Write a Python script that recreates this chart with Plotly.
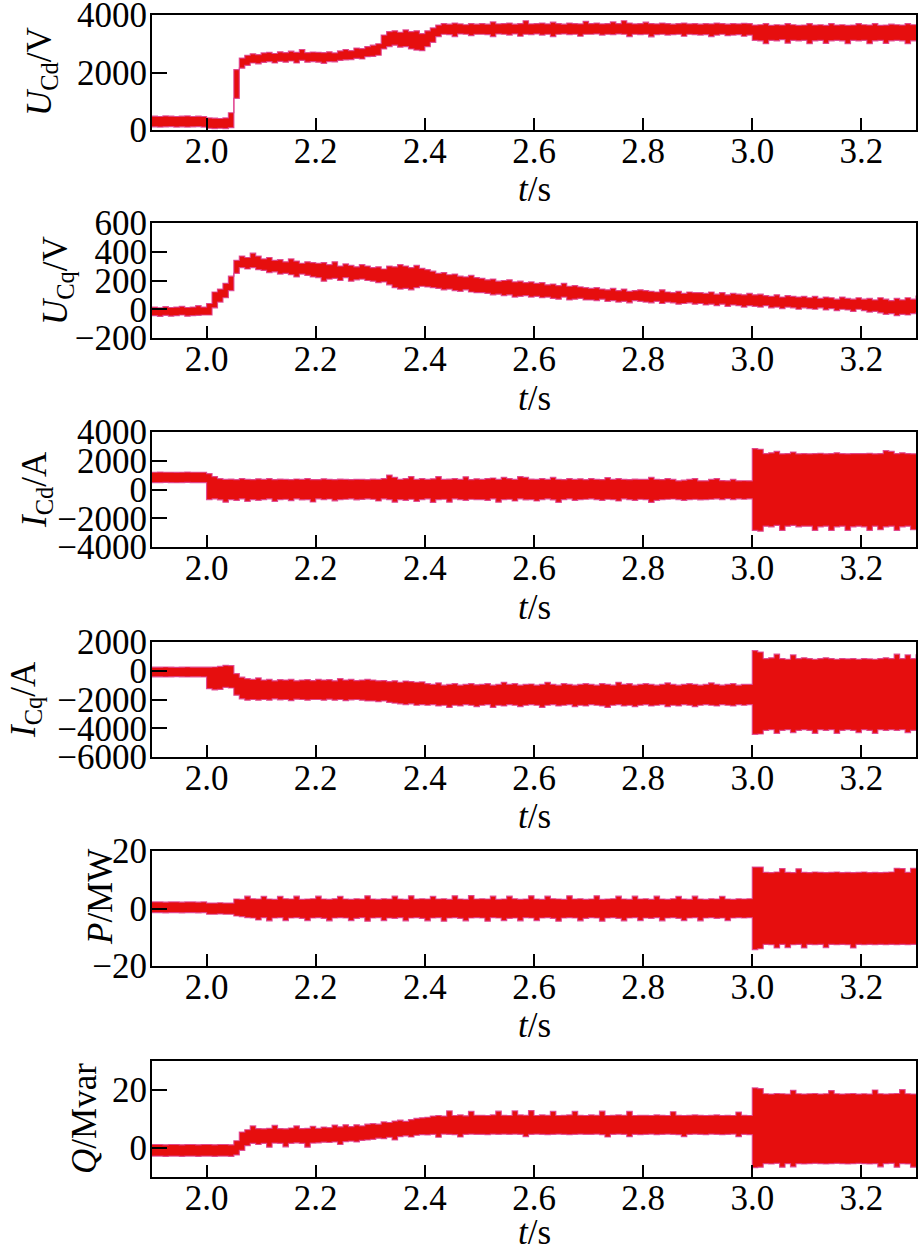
import plotly.graph_objects as go

# ---------------- data ----------------
T0, DT, N = 1.90, 0.01, 141
t = [round(T0 + DT * i, 2) for i in range(N)]

ucd_hi = [480, 470, 490, 480, 470, 480, 490, 470, 480, 470,
          420, 410, 400, 420, 600, 2100, 2500, 2600, 2650, 2620,
          2680, 2700, 2660, 2720, 2690, 2740, 2700, 2800, 2690, 2710,
          2700, 2690, 2720, 2680, 2750, 2800, 2760, 2850, 2830, 2900,
          2950, 3000, 3300, 3420, 3450, 3400, 3480, 3420, 3450, 3350,
          3450, 3550, 3650, 3700, 3680, 3720, 3690, 3660, 3700, 3680,
          3700, 3680, 3760, 3690, 3700, 3720, 3680, 3700, 3800, 3690,
          3700, 3720, 3690, 3750, 3700, 3680, 3720, 3700, 3690, 3780,
          3700, 3720, 3690, 3700, 3760, 3700, 3800, 3720, 3690, 3700,
          3750, 3700, 3690, 3720, 3700, 3680, 3700, 3720, 3690, 3700,
          3680, 3700, 3690, 3720, 3700, 3680, 3700, 3690, 3710, 3700,
          3650, 3660, 3700, 3640, 3660, 3650, 3700, 3660, 3640, 3650,
          3700, 3650, 3660, 3640, 3700, 3650, 3660, 3640, 3650, 3700,
          3660, 3650, 3700, 3640, 3650, 3680, 3660, 3650, 3700, 3660, 3650]
ucd_lo = [110, 100, 110, 120, 100, 110, 100, 110, 120, 100,
          60, 50, 60, 50, 80, 1100, 2150, 2250, 2330, 2300,
          2350, 2380, 2330, 2390, 2360, 2400, 2330, 2420, 2360, 2380,
          2360, 2320, 2380, 2370, 2420, 2440, 2450, 2490, 2470, 2550,
          2560, 2600, 2820, 2900, 2950, 2880, 2900, 2820, 2780, 2760,
          2900, 3050, 3250, 3330, 3320, 3250, 3340, 3330, 3280, 3330,
          3330, 3320, 3250, 3340, 3330, 3300, 3340, 3260, 3330, 3320,
          3340, 3300, 3330, 3250, 3330, 3340, 3320, 3330, 3260, 3330,
          3330, 3340, 3300, 3330, 3320, 3340, 3330, 3250, 3330, 3320,
          3330, 3240, 3320, 3330, 3300, 3320, 3330, 3260, 3330, 3320,
          3300, 3320, 3250, 3300, 3330, 3280, 3300, 3320, 3260, 3300,
          3120, 3100, 3000, 3120, 3100, 3140, 3020, 3120, 3100, 3120,
          3000, 3100, 3120, 3010, 3100, 3120, 3100, 3000, 3120, 3100,
          3120, 3000, 3100, 3120, 3010, 3100, 3120, 3100, 3000, 3100, 3120]

ucq_hi = [15, 10, 18, 12, 15, 20, 12, 15, 25, 15,
          40, 120, 140, 180, 230, 340, 370, 360, 390, 370,
          350, 360, 340, 345, 330, 350, 335, 320, 330, 325,
          320, 325, 310, 330, 300, 315, 305, 295, 310, 300,
          290, 295, 280, 300, 295, 310, 300, 290, 305, 285,
          275, 265, 250, 255, 240, 245, 230, 225, 235, 220,
          215, 205, 210, 195, 200, 205, 190, 195, 185, 190,
          180, 185, 170, 175, 165, 180, 160, 165, 155, 150,
          145, 150, 140, 135, 145, 130, 140, 125, 130, 135,
          130, 125, 120, 135, 120, 115, 125, 110, 120, 115,
          115, 110, 120, 105, 115, 100, 110, 105, 100, 110,
          100, 105, 95, 90, 100, 85, 95, 90, 85, 90,
          80, 90, 75, 85, 80, 70, 85, 75, 70, 80,
          70, 75, 65, 80, 70, 60, 75, 65, 80, 70, 95]
ucq_lo = [-45, -50, -42, -48, -45, -40, -48, -45, -42, -40,
          -40, 10, 50, 80, 130, 250, 290, 280, 290, 275,
          270, 255, 260, 245, 250, 240, 225, 245, 235, 225,
          220, 195, 210, 215, 200, 220, 195, 205, 210, 200,
          195, 185, 190, 170, 150, 140, 145, 135, 150, 160,
          155, 150, 145, 135, 140, 130, 125, 135, 120, 115,
          115, 110, 100, 105, 95, 100, 85, 90, 95, 85,
          90, 80, 85, 75, 70, 85, 65, 70, 75, 65,
          65, 60, 70, 55, 60, 50, 55, 45, 60, 55,
          50, 45, 55, 40, 50, 45, 35, 40, 45, 35,
          40, 30, 35, 25, 35, 20, 30, 25, 15, 25,
          20, 15, 25, 10, 15, 5, 15, 10, 0, 10,
          5, 0, 10, -5, 5, -10, 0, -5, -15, 0,
          -10, -20, -15, -25, -35, -30, -45, -35, -40, -30, -20]

icd_hi = [1200, 1210, 1200, 1200, 1190, 1200, 1210, 1200, 1200, 1200,
          1100, 900, 750, 700, 720, 680, 760, 700, 690, 740,
          700, 760, 690, 720, 700, 680, 730, 700, 760, 690,
          690, 740, 700, 680, 720, 700, 690, 710, 700, 680,
          720, 700, 760, 1000, 850, 700, 760, 900, 700, 760,
          700, 740, 900, 700, 720, 760, 700, 880, 690, 740,
          700, 760, 800, 700, 850, 760, 700, 900, 850, 720,
          700, 760, 700, 840, 700, 690, 760, 700, 740, 680,
          760, 700, 690, 820, 700, 760, 700, 690, 720, 700,
          700, 840, 700, 690, 760, 700, 600, 650, 700, 760,
          600, 600, 700, 760, 620, 600, 700, 600, 610, 600,
          2850, 2800, 2500, 2550, 2650, 2480, 2500, 2600, 2480, 2500,
          2480, 2500, 2520, 2480, 2500, 2550, 2490, 2480, 2500, 2500,
          2500, 2520, 2480, 2500, 2700, 2650, 2500, 2550, 2500, 2480, 2500]
icd_lo = [480, 480, 490, 480, 470, 480, 490, 480, 480, 480,
          -700, -650, -720, -880, -700, -760, -650, -820, -700, -750,
          -700, -650, -820, -700, -680, -780, -650, -720, -700, -870,
          -650, -700, -660, -790, -700, -680, -650, -720, -690, -650,
          -680, -800, -650, -700, -880, -700, -750, -680, -820, -700,
          -650, -900, -700, -680, -880, -650, -700, -750, -680, -700,
          -700, -760, -650, -880, -700, -680, -800, -650, -720, -700,
          -800, -700, -650, -720, -890, -700, -650, -760, -700, -680,
          -650, -700, -760, -680, -700, -800, -650, -700, -760, -680,
          -700, -900, -750, -700, -680, -660, -700, -760, -700, -680,
          -720, -700, -680, -650, -700, -640, -700, -650, -680, -650,
          -2850, -2900, -2550, -2600, -2500, -2850, -2550, -2500, -2600, -2550,
          -2550, -2850, -2600, -2550, -2850, -2600, -2550, -2850, -2600, -2550,
          -2600, -2850, -2550, -2800, -2600, -2550, -2850, -2600, -2550, -2800, -2800]

icq_hi = [250, 250, 260, 250, 240, 250, 260, 250, 250, 250,
          250, 260, 300, 380, 350, -200, -450, -550, -600, -500,
          -650, -600, -700, -620, -650, -600, -700, -650, -620, -680,
          -600, -650, -620, -700, -550, -650, -600, -680, -650, -600,
          -650, -700, -680, -750, -700, -800, -720, -750, -800, -780,
          -900, -950, -850, -1000, -950, -900, -1000, -950, -900, -980,
          -950, -900, -1000, -950, -800, -950, -900, -1000, -950, -920,
          -1000, -950, -800, -950, -1000, -900, -950, -1000, -950, -900,
          -950, -1000, -900, -950, -1000, -800, -950, -900, -1000, -950,
          -900, -950, -1000, -950, -850, -950, -1000, -950, -900, -950,
          -1000, -950, -850, -950, -1000, -950, -900, -1000, -950, -950,
          1400, 1300, 850, 900, 1150, 850, 800, 1100, 850, 900,
          850, 800, 850, 900, 850, 800, 850, 820, 850, 800,
          850, 820, 800, 850, 900, 850, 1150, 850, 1100, 850, 1150]
icq_lo = [-420, -420, -430, -420, -410, -420, -430, -420, -420, -430,
          -1250, -1330, -1300, -1150, -1200, -1700, -1950, -2050, -2000, -2050,
          -2000, -2050, -1950, -2020, -2000, -2080, -1980, -2000, -2050, -2000,
          -2000, -2050, -1980, -2050, -2000, -2080, -2020, -2000, -2050, -2100,
          -2100, -2150, -2100, -2200, -2250, -2300, -2350, -2300, -2400, -2350,
          -2400, -2350, -2450, -2400, -2550, -2400, -2450, -2350, -2400, -2500,
          -2400, -2350, -2550, -2400, -2450, -2350, -2400, -2500, -2400, -2350,
          -2400, -2550, -2400, -2350, -2450, -2400, -2350, -2500, -2400, -2450,
          -2350, -2400, -2450, -2550, -2400, -2350, -2450, -2400, -2500, -2400,
          -2350, -2450, -2400, -2350, -2500, -2400, -2450, -2350, -2400, -2500,
          -2400, -2350, -2400, -2450, -2350, -2400, -2450, -2350, -2400, -2350,
          -4420, -4400, -4150, -4100, -4350, -4150, -4100, -4300, -4150, -4100,
          -4150, -4350, -4100, -4150, -4100, -4350, -4150, -4100, -4150, -4300,
          -4100, -4150, -4350, -4100, -4150, -4100, -4150, -4100, -4300, -4150, -4100]

p_hi = [2.3, 2.3, 2.2, 2.3, 2.3, 2.2, 2.3, 2.3, 2.2, 2.3,
        1.9, 1.9, 2.0, 1.9, 1.9, 3.3, 3.2, 4.3, 3.4, 3.3,
        4.2, 3.3, 3.2, 4.2, 3.4, 3.3, 4.3, 3.2, 3.3, 3.4,
        4.3, 3.3, 3.2, 3.4, 4.2, 3.3, 3.2, 3.4, 3.3, 4.4,
        3.3, 3.2, 3.4, 3.3, 4.3, 3.3, 3.2, 4.4, 3.3, 3.4,
        3.3, 4.2, 3.3, 3.4, 3.2, 4.4, 3.3, 3.2, 4.5, 3.3,
        3.4, 3.3, 4.3, 3.2, 3.3, 4.3, 3.4, 3.2, 3.3, 4.4,
        3.3, 3.2, 4.3, 3.4, 3.3, 3.2, 4.4, 3.3, 3.4, 3.2,
        3.3, 4.4, 3.2, 3.3, 3.4, 4.3, 3.3, 3.2, 4.3, 3.3,
        3.4, 3.2, 4.3, 3.3, 3.2, 3.4, 4.2, 3.3, 3.2, 4.3,
        3.3, 3.2, 3.4, 3.3, 4.2, 3.3, 3.2, 3.4, 3.3, 3.4,
        14.4, 14.4, 12.6, 12.5, 12.7, 13.9, 12.6, 12.5, 13.8, 12.6,
        12.5, 12.7, 12.6, 12.5, 12.6, 12.7, 12.5, 12.6, 12.5, 12.6,
        12.7, 12.5, 12.6, 12.5, 12.6, 12.7, 14.0, 13.9, 12.6, 14.0, 14.0]
p_lo = [-1.4, -1.4, -1.5, -1.4, -1.4, -1.5, -1.4, -1.4, -1.5, -1.4,
        -2.0, -2.0, -1.9, -2.0, -2.0, -2.6, -2.8, -3.2, -3.3, -4.0,
        -3.2, -4.3, -3.3, -3.2, -4.2, -3.3, -3.2, -3.4, -4.2, -3.3,
        -3.2, -3.4, -4.3, -3.3, -3.2, -3.3, -4.2, -3.4, -3.2, -4.4,
        -3.3, -3.2, -4.2, -3.3, -3.4, -3.2, -4.3, -3.3, -3.2, -3.4,
        -4.3, -3.3, -3.2, -4.4, -3.3, -3.2, -3.4, -4.3, -3.3, -3.2,
        -3.3, -4.4, -3.2, -3.3, -4.2, -3.4, -3.3, -4.3, -3.2, -3.3,
        -4.2, -3.3, -3.2, -3.4, -4.4, -3.3, -3.2, -3.3, -4.3, -3.4,
        -3.2, -3.3, -4.4, -3.3, -3.2, -3.4, -4.3, -3.3, -3.2, -4.2,
        -3.3, -3.4, -3.2, -4.3, -3.3, -3.2, -3.4, -4.2, -3.3, -3.2,
        -4.3, -3.3, -3.2, -3.4, -3.3, -4.2, -3.3, -3.2, -3.3, -3.2,
        -14.3, -14.0, -12.5, -12.6, -13.7, -12.5, -13.6, -12.6, -12.5, -13.7,
        -12.5, -12.6, -12.5, -13.6, -12.5, -12.6, -12.5, -12.6, -13.7, -12.5,
        -12.6, -12.5, -12.6, -12.5, -12.6, -12.5, -12.6, -12.5, -12.6, -12.5, -12.6]

q_hi = [1.2, 1.2, 1.1, 1.2, 1.2, 1.1, 1.2, 1.2, 1.1, 1.2,
        1.2, 1.1, 1.2, 1.2, 1.1, 2.5, 5.5, 6.3, 7.6, 6.7,
        6.6, 6.8, 7.8, 6.7, 6.6, 6.9, 7.6, 6.7, 6.8, 7.5,
        6.8, 7.2, 7.0, 7.9, 7.3, 8.0, 7.4, 8.0, 7.6, 8.2,
        8.4, 8.2, 9.0, 8.8, 9.3, 9.6, 9.2, 9.8, 10.2, 10.4,
        10.6, 11.0, 11.2, 11.0, 12.8, 11.2, 11.4, 11.1, 12.6, 11.3,
        11.3, 11.2, 11.4, 12.7, 11.3, 11.2, 12.8, 11.4, 11.3, 12.9,
        11.2, 11.4, 11.3, 12.6, 11.2, 11.3, 11.4, 12.6, 11.3, 11.2,
        11.4, 11.3, 12.7, 11.2, 11.3, 11.4, 11.3, 12.6, 11.2, 11.3,
        11.3, 11.2, 11.4, 11.3, 11.2, 12.5, 11.3, 11.2, 11.3, 11.4,
        11.3, 11.2, 11.3, 11.4, 11.2, 11.3, 11.2, 12.4, 11.3, 11.2,
        20.7, 20.5, 18.7, 18.6, 18.8, 18.7, 18.6, 19.9, 18.7, 18.6,
        18.7, 18.8, 18.6, 18.7, 19.8, 18.7, 18.6, 18.7, 18.8, 18.6,
        18.7, 18.6, 20.0, 18.7, 18.6, 18.7, 18.8, 20.1, 18.7, 18.6, 18.7]
q_lo = [-2.8, -2.8, -2.9, -2.8, -2.8, -2.9, -2.8, -2.8, -2.9, -2.8,
        -2.8, -2.9, -2.8, -2.8, -2.9, -2.4, -0.8, 0.8, 1.6, 1.2,
        1.6, 0.3, 1.7, 1.6, 0.4, 1.6, 1.8, 1.6, 0.3, 1.7,
        1.8, 2.0, 1.9, 2.1, 1.2, 2.2, 2.4, 2.1, 2.6, 2.8,
        3.0, 3.4, 3.2, 3.7, 2.8, 3.9, 4.2, 3.8, 4.4, 4.6,
        4.5, 4.7, 3.7, 4.8, 4.7, 4.6, 3.8, 4.7, 4.8, 4.7,
        4.7, 4.6, 4.8, 4.7, 4.8, 4.7, 4.8, 4.7, 3.9, 4.7,
        4.8, 4.7, 4.6, 4.7, 4.8, 4.7, 4.6, 4.7, 4.8, 4.7,
        4.7, 4.8, 4.6, 3.8, 4.7, 4.8, 4.7, 3.9, 4.7, 4.6,
        4.7, 4.8, 4.6, 4.7, 4.8, 4.7, 4.6, 3.9, 4.7, 4.8,
        4.7, 4.6, 4.8, 4.7, 4.6, 4.7, 4.8, 3.9, 4.7, 4.6,
        -6.8, -6.6, -5.4, -5.5, -5.3, -6.6, -5.4, -6.5, -5.4, -5.5,
        -5.4, -5.3, -5.4, -5.5, -5.4, -5.3, -5.4, -5.5, -5.4, -5.3,
        -5.4, -5.5, -5.4, -6.5, -5.4, -5.3, -6.6, -5.4, -5.5, -6.6, -6.5]

x_ticks = [2.0, 2.2, 2.4, 2.6, 2.8, 3.0, 3.2]
y_titles = ["<i>U</i><sub>Cd</sub>/V", "<i>U</i><sub>Cq</sub>/V", "<i>I</i><sub>Cd</sub>/A",
            "<i>I</i><sub>Cq</sub>/A", "<i>P</i>/MW", "<i>Q</i>/Mvar"]
y_ranges = [[0, 4000], [-200, 600], [-4000, 4000], [-6000, 2000], [-20, 20], [-10, 30]]
y_ticks = [[0, 2000, 4000], [-200, 0, 200, 400, 600], [-4000, -2000, 0, 2000, 4000],
           [-6000, -4000, -2000, 0, 2000], [-20, 0, 20], [0, 20]]
x_title = "<i>t</i>/s"

# ---------------- layout geometry (pixels) ----------------
W, H = 918, 1247
X0, X1 = 152, 916
panels = [(15, 130), (223, 338), (432, 547), (642, 757), (851, 966), (1061, 1177)]
ytitle_x = [41, 57, 36, 25, 100, 84]
ytitle_y = [72, 281, 490, 700, 897, 1119]
xtitle_y = [189, 398, 607, 816, 1025, 1232]
FONT = "Liberation Serif"
FS = 35
RED = "#e60e0e"
EDGE = "rgba(222,60,140,0.85)"

series = [(ucd_lo, ucd_hi), (ucq_lo, ucq_hi), (icd_lo, icd_hi),
          (icq_lo, icq_hi), (p_lo, p_hi), (q_lo, q_hi)]

fig = go.Figure()
annotations = []
layout = {}
for k, ((lo, hi), (top, bot)) in enumerate(zip(series, panels)):
    n = k + 1
    xa, ya = ("x" if n == 1 else f"x{n}"), ("y" if n == 1 else f"y{n}")
    fig.add_trace(go.Scatter(x=t, y=lo, xaxis=xa, yaxis=ya, mode="lines",
                             line=dict(color=EDGE, width=1.2, shape="hv"),
                             showlegend=False, hoverinfo="skip"))
    fig.add_trace(go.Scatter(x=t, y=hi, xaxis=xa, yaxis=ya, mode="lines",
                             line=dict(color=EDGE, width=1.2, shape="hv"),
                             fill="tonexty", fillcolor=RED,
                             showlegend=False, hoverinfo="skip"))
    dom = [1 - bot / H, 1 - top / H]
    common = dict(showline=True, linewidth=2, linecolor="black", mirror=True,
                  showgrid=False, zeroline=False, ticks="inside", tickwidth=2,
                  tickcolor="black", automargin=False, ticklabeloverflow="allow",
                  tickfont=dict(family=FONT, size=FS, color="black"))
    layout["xaxis" if n == 1 else f"xaxis{n}"] = dict(
        domain=[X0 / W, X1 / W], range=[1.9, 3.3], anchor=ya,
        tickvals=x_ticks, ticktext=[f"{v:.1f}" for v in x_ticks], ticklen=12,
        ticklabelstandoff=-11, **common)
    layout["yaxis" if n == 1 else f"yaxis{n}"] = dict(
        domain=dom, range=y_ranges[k], anchor=xa,
        tickvals=y_ticks[k], ticktext=[str(v).replace("-", "\u2212") for v in y_ticks[k]],
        ticklen=15, ticklabelstandoff=-4, **common)
    annotations.append(dict(text=y_titles[k], xref="paper", yref="paper",
                            x=ytitle_x[k] / W, y=1 - ytitle_y[k] / H,
                            xanchor="center", yanchor="middle", textangle=-90,
                            showarrow=False, font=dict(family=FONT, size=FS, color="black")))
    annotations.append(dict(text=x_title, xref="paper", yref="paper",
                            x=(X0 + X1) / 2 / W, y=1 - xtitle_y[k] / H,
                            xanchor="center", yanchor="middle",
                            showarrow=False, font=dict(family=FONT, size=FS, color="black")))

fig.update_layout(width=W, height=H, margin=dict(l=0, r=0, t=0, b=0),
                  paper_bgcolor="white", plot_bgcolor="white",
                  annotations=annotations, **layout)
fig.write_html("out.html", config={"displayModeBar": False},
               post_script="document.body.style.margin='0px';document.body.style.overflow='hidden';")
